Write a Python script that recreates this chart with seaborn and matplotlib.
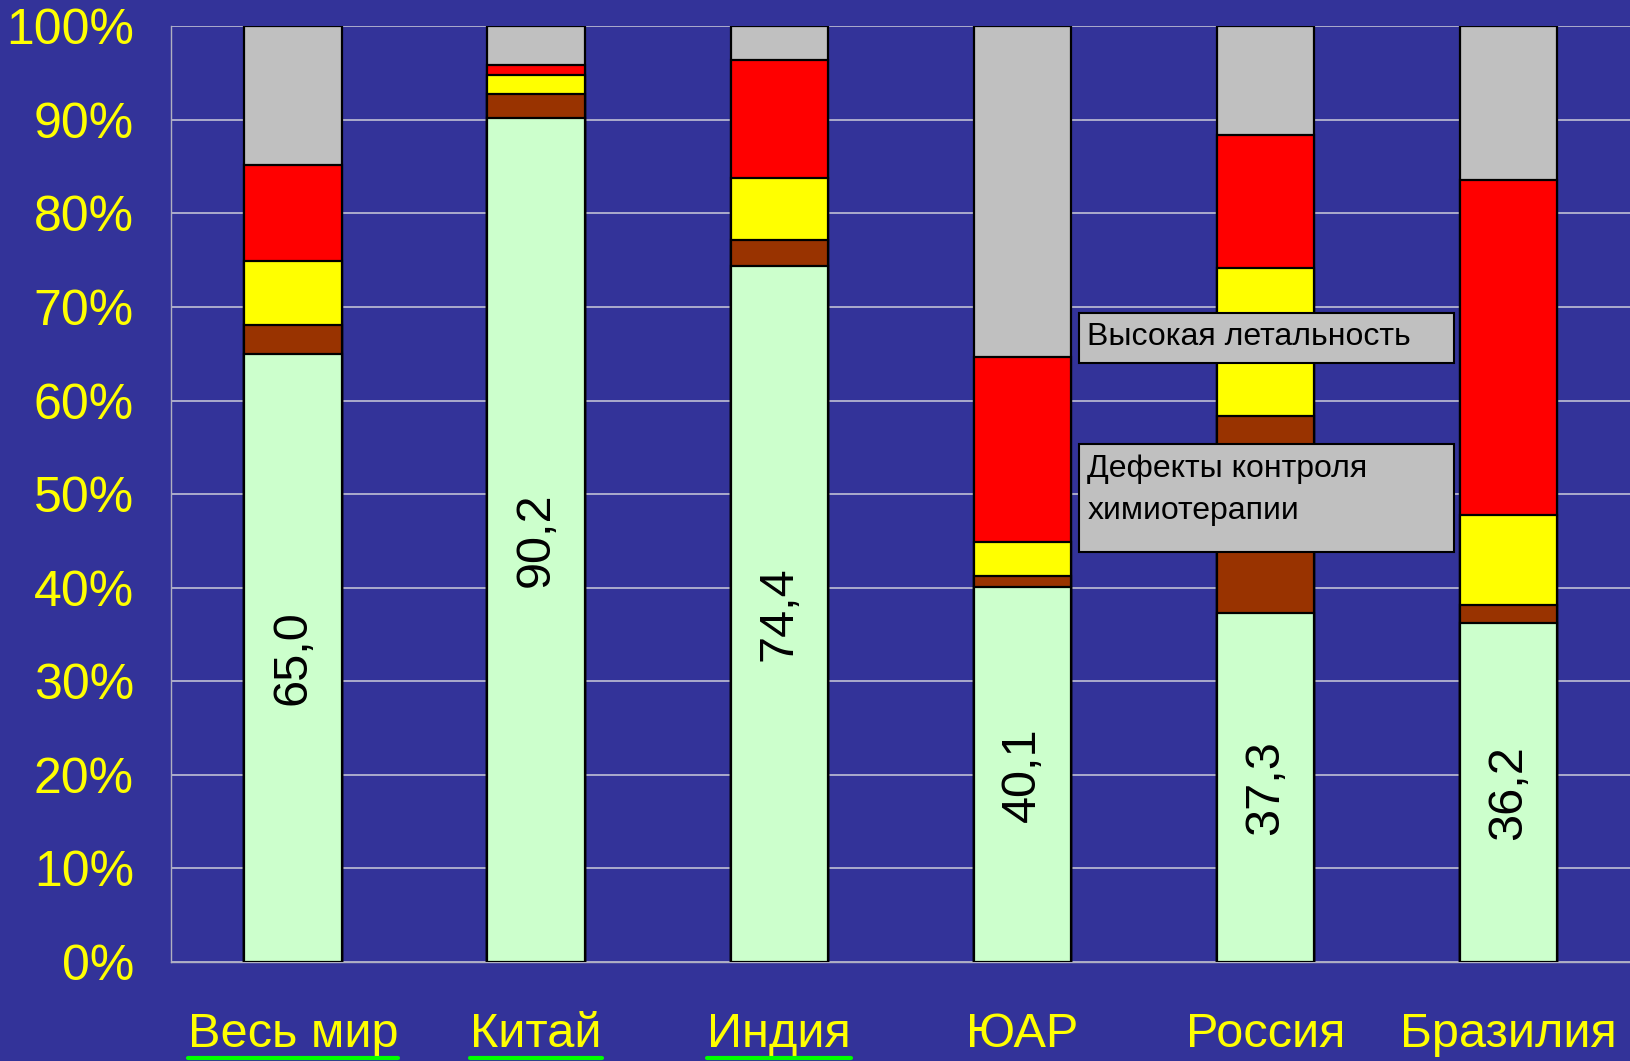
import numpy as np
import pandas as pd
import seaborn as sns
import matplotlib.pyplot as plt
from matplotlib.lines import Line2D
from matplotlib.patches import Rectangle

# Data: share of treatment outcomes, %
countries = ["Весь мир", "Китай", "Индия", "ЮАР", "Россия", "Бразилия"]
success = [65.0, 90.2, 74.4, 40.1, 37.3, 36.2]
brown = [3.1, 2.6, 2.8, 1.2, 21.0, 2.0]
yellow = [6.8, 2.0, 6.6, 3.6, 15.9, 9.6]
red = [10.3, 1.1, 12.6, 19.8, 14.2, 35.8]
gray = [14.8, 4.1, 3.6, 35.3, 11.6, 16.4]
underlined = ["Весь мир", "Китай", "Индия"]

bg = "#333399"
layers = [success, brown, yellow, red, gray]
colors = ["#CCFFCC", "#993300", "#FFFF00", "#FF0000", "#C0C0C0"]

sns.set_style("white")
plt.rcParams["font.family"] = ["Liberation Sans", "DejaVu Sans"]

fig = plt.figure(figsize=(16.3, 10.61), dpi=100, facecolor=bg)
ax = fig.add_axes([0.1052, 0.0933, 0.8948, 0.882])
ax.set_facecolor(bg)

# stacked bars: draw cumulative heights from top layer down
cum = np.cumsum(np.array(layers), axis=0)
for k in range(len(layers) - 1, -1, -1):
    df = pd.DataFrame({"country": countries, "value": cum[k]})
    sns.barplot(data=df, x="country", y="value", color=colors[k], width=0.4,
                edgecolor="black", linewidth=1.6, saturation=1, ax=ax, zorder=3)

# value labels inside green segment
green_bars = ax.containers[-1]
ax.bar_label(green_bars, labels=[f"{v:.1f}".replace(".", ",") for v in success],
             label_type="center", rotation=90, fontsize=35, color="black")

ax.set_xlim(-0.5, 5.5)
ax.set_ylim(0, 100)
ax.set_yticks(np.arange(0, 101, 10))
ax.set_yticklabels([f"{t}%" for t in range(0, 101, 10)])
ax.yaxis.grid(True, color="#C0C0D4", linewidth=1.2, zorder=0)
ax.set_axisbelow(True)
ax.set_xlabel("")
ax.set_ylabel("")

ax.tick_params(axis="y", colors="#B0B0C0", labelcolor="#FFFF00", labelsize=36,
               length=11, width=1, pad=16)
ax.tick_params(axis="x", which="major", length=0, labelcolor="#FFFF00",
               labelsize=35, pad=36)
ax.set_xticks(np.arange(-0.5, 6, 1), minor=True)
ax.tick_params(axis="x", which="minor", length=11, width=1, colors="#B0B0C0")

for s in ["top", "right"]:
    ax.spines[s].set_visible(False)
ax.spines["left"].set_color("#B0B0C0")
ax.spines["bottom"].set_color("#B0B0C0")
ax.spines["left"].set_linewidth(1)
ax.spines["bottom"].set_linewidth(1)

# annotation boxes
ax.add_patch(Rectangle((0.622, 0.640), 0.257, 0.054, transform=ax.transAxes,
                       facecolor="#C0C0C0", edgecolor="black", linewidth=1.5,
                       zorder=5, clip_on=False))
ax.text(0.628, 0.668, "Высокая летальность", transform=ax.transAxes,
        fontsize=23, color="black", va="center", ha="left", zorder=6)
ax.add_patch(Rectangle((0.622, 0.438), 0.257, 0.116, transform=ax.transAxes,
                       facecolor="#C0C0C0", edgecolor="black", linewidth=1.5,
                       zorder=5, clip_on=False))
ax.text(0.628, 0.527, "Дефекты контроля", transform=ax.transAxes,
        fontsize=23, color="black", va="center", ha="left", zorder=6)
ax.text(0.628, 0.482, "химиотерапии", transform=ax.transAxes,
        fontsize=23, color="black", va="center", ha="left", zorder=6)

# green underline under some labels
fig.canvas.draw()
inv = fig.transFigure.inverted()
for lab in ax.get_xticklabels():
    if lab.get_text() in underlined:
        bb = lab.get_window_extent()
        (x0, y0), (x1, y1) = inv.transform([[bb.x0, bb.y0], [bb.x1, bb.y1]])
        fig.add_artist(Line2D([x0, x1], [0.003, 0.003], color="#00FF00",
                              linewidth=3, transform=fig.transFigure))

fig.savefig("out.png", dpi=100, facecolor=bg)
